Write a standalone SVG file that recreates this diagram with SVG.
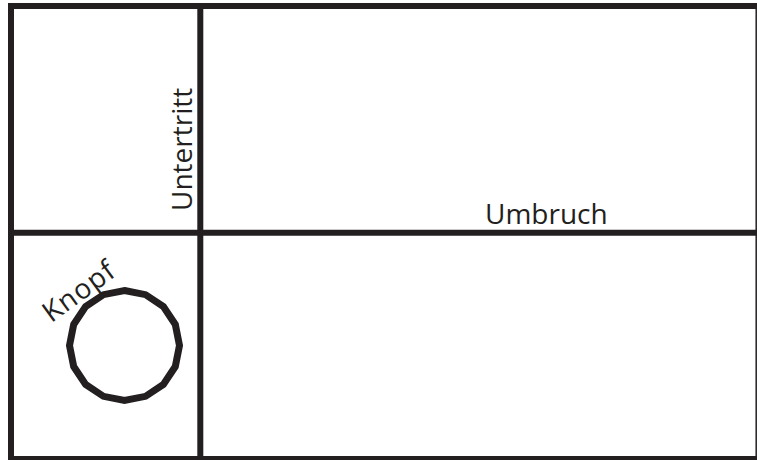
<svg xmlns="http://www.w3.org/2000/svg" width="757" height="460" viewBox="0 0 757 460">
  <style>
    .bar { stroke: #231f20; stroke-width: 6; fill: none; stroke-linecap: butt; }
    .thin { stroke: #231f20; stroke-width: 1.5; fill: none; }
    .lbl { font-family: "Open Sans", "Liberation Sans", sans-serif; font-size: 28px; fill: #231f20; }
  </style>
  <rect width="757" height="460" fill="#ffffff"/>
  <g id="frame">
    <line class="thin" x1="756.2" y1="3" x2="756.2" y2="460"/>
    <line class="bar" x1="8" y1="6" x2="757" y2="6"/>
    <line class="bar" x1="11" y1="3" x2="11" y2="460"/>
    <line class="bar" x1="8" y1="459" x2="757" y2="459"/>
    <line class="bar" x1="200.3" y1="9" x2="200.3" y2="460"/>
    <line class="bar" x1="14" y1="232.7" x2="757" y2="232.7"/>
  </g>
  <g id="untertritt">
    <text class="lbl" transform="translate(191.5,211) rotate(-90)">Untertritt</text>
  </g>
  <g id="umbruch">
    <text class="lbl" x="485" y="224">Umbruch</text>
  </g>
  <g id="knopf">
    <polygon fill="none" stroke="#231f20" stroke-width="7" stroke-linejoin="miter" points="124.5,290.5 145.55,294.69 163.39,306.61 175.31,324.45 179.5,345.5 175.31,366.55 163.39,384.39 145.55,396.31 124.5,400.5 103.45,396.31 85.61,384.39 73.69,366.55 69.5,345.5 73.69,324.45 85.61,306.61 103.45,294.69"/>
    <text class="lbl" text-anchor="middle" letter-spacing="1" transform="translate(84.6,299) rotate(-36)">Knopf</text>
  </g>
</svg>
